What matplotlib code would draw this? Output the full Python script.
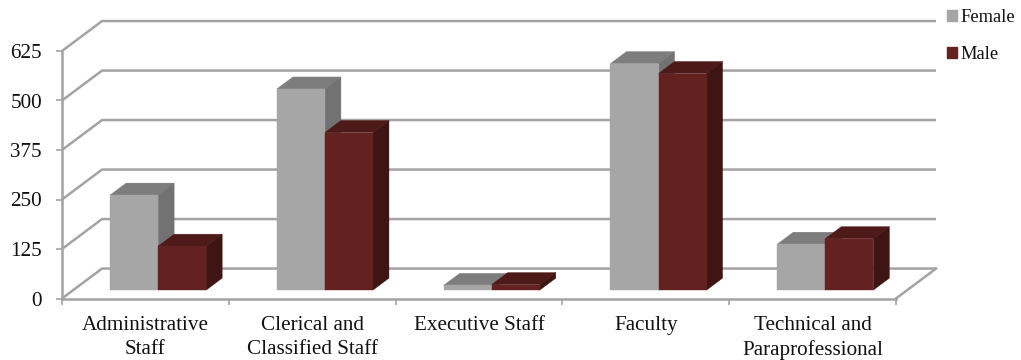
import matplotlib
matplotlib.use('Agg')
import matplotlib.pyplot as plt
from matplotlib.patches import Polygon, Patch

# Valores
categories = ['Administrative\nStaff', 'Clerical and\nClassified Staff', 'Executive Staff',
              'Faculty', 'Technical and\nParaprofessional']
female = [240, 508, 12, 572, 116]
male = [111, 398, 14, 547, 130]
y_ticks = [0, 125, 250, 375, 500, 625]

FEMALE_COLORS = ('#a6a6a6', '#7d7d7d', '#727272')  # frente, arriba, lado
MALE_COLORS = ('#632120', '#4e1a19', '#3f1514')
LINE_COLOR = '#a3a3a3'

# Profundidad del efecto 3D, en unidades de los ejes
DEPTH_X = 0.24
DEPTH_Y = 75.6
BAR_WIDTH = 0.288
BAR_FRONT = 0.28
BAR_BACK = 0.68
BAR_SHIFT = 0.009

plt.rcParams['font.family'] = ['Liberation Serif', 'DejaVu Serif']

fig = plt.figure(figsize=(10.21, 3.6), dpi=100)
ax = fig.add_axes([62 / 1021, 1 - 298.5 / 360, 834 / 1021, 247.5 / 360])
ax.set_xlim(0, 5)
ax.set_ylim(0, 625)
ax.patch.set_visible(False)


def draw_bar(x_left, value, colors):
    x0 = x_left + BAR_FRONT * DEPTH_X + BAR_SHIFT
    y0 = BAR_FRONT * DEPTH_Y
    x1 = x0 + BAR_WIDTH
    dx = (BAR_BACK - BAR_FRONT) * DEPTH_X
    dy = (BAR_BACK - BAR_FRONT) * DEPTH_Y
    top = y0 + value
    ax.add_patch(Polygon([(x0, top), (x1, top), (x1 + dx, top + dy), (x0 + dx, top + dy)],
                         closed=True, fc=colors[1], ec=colors[1], lw=0.3, clip_on=False, zorder=3))
    ax.add_patch(Polygon([(x1, y0), (x1 + dx, y0 + dy), (x1 + dx, top + dy), (x1, top)],
                         closed=True, fc=colors[2], ec=colors[2], lw=0.3, clip_on=False, zorder=3))
    ax.bar(x0, value, width=BAR_WIDTH, bottom=y0, align='edge', color=colors[0],
           edgecolor=colors[0], lw=0.3, zorder=3, clip_on=False)


# Pared de fondo y pared izquierda
for v in y_ticks:
    ax.plot([0, DEPTH_X, 5 + DEPTH_X], [v, v + DEPTH_Y, v + DEPTH_Y],
            color=LINE_COLOR, lw=1.8, clip_on=False, zorder=1, solid_capstyle='butt')
ax.plot([5, 5 + DEPTH_X], [0, DEPTH_Y], color=LINE_COLOR, lw=1.8, clip_on=False, zorder=1)

for i in range(len(categories)):
    center = i + 0.5
    draw_bar(center - BAR_WIDTH, female[i], FEMALE_COLORS)
    draw_bar(center, male[i], MALE_COLORS)

for side in ['top', 'right']:
    ax.spines[side].set_visible(False)
for side in ['left', 'bottom']:
    ax.spines[side].set_color(LINE_COLOR)
    ax.spines[side].set_linewidth(1.8)

ax.set_yticks(y_ticks)
ax.set_xticks(range(6))
ax.set_xticklabels([])
ax.set_xticks([i + 0.5 for i in range(5)], categories, minor=True)
ax.tick_params(axis='x', which='major', length=4, width=1.2, color=LINE_COLOR)
ax.tick_params(axis='x', which='minor', length=0, labelsize=15.2, pad=12.5, labelcolor='#111111')
ax.tick_params(axis='y', length=4, width=1.2, color=LINE_COLOR, labelsize=15.2, pad=10.5, labelcolor='#111111')
for lab in ax.get_xticklabels(minor=True):
    lab.set_linespacing(1.34)

handles = [Patch(color=FEMALE_COLORS[0], label='Female'), Patch(color=MALE_COLORS[0], label='Male')]
fig.legend(handles=handles, loc='upper left', bbox_to_anchor=(947 / 1021, 1 - 9 / 360), frameon=False,
           fontsize=13.3, handlelength=0.53, handleheight=0.53, handletextpad=0.2, labelspacing=1.08,
           borderpad=0, borderaxespad=0, labelcolor='#111111')

fig.savefig('out.png', dpi=100)
